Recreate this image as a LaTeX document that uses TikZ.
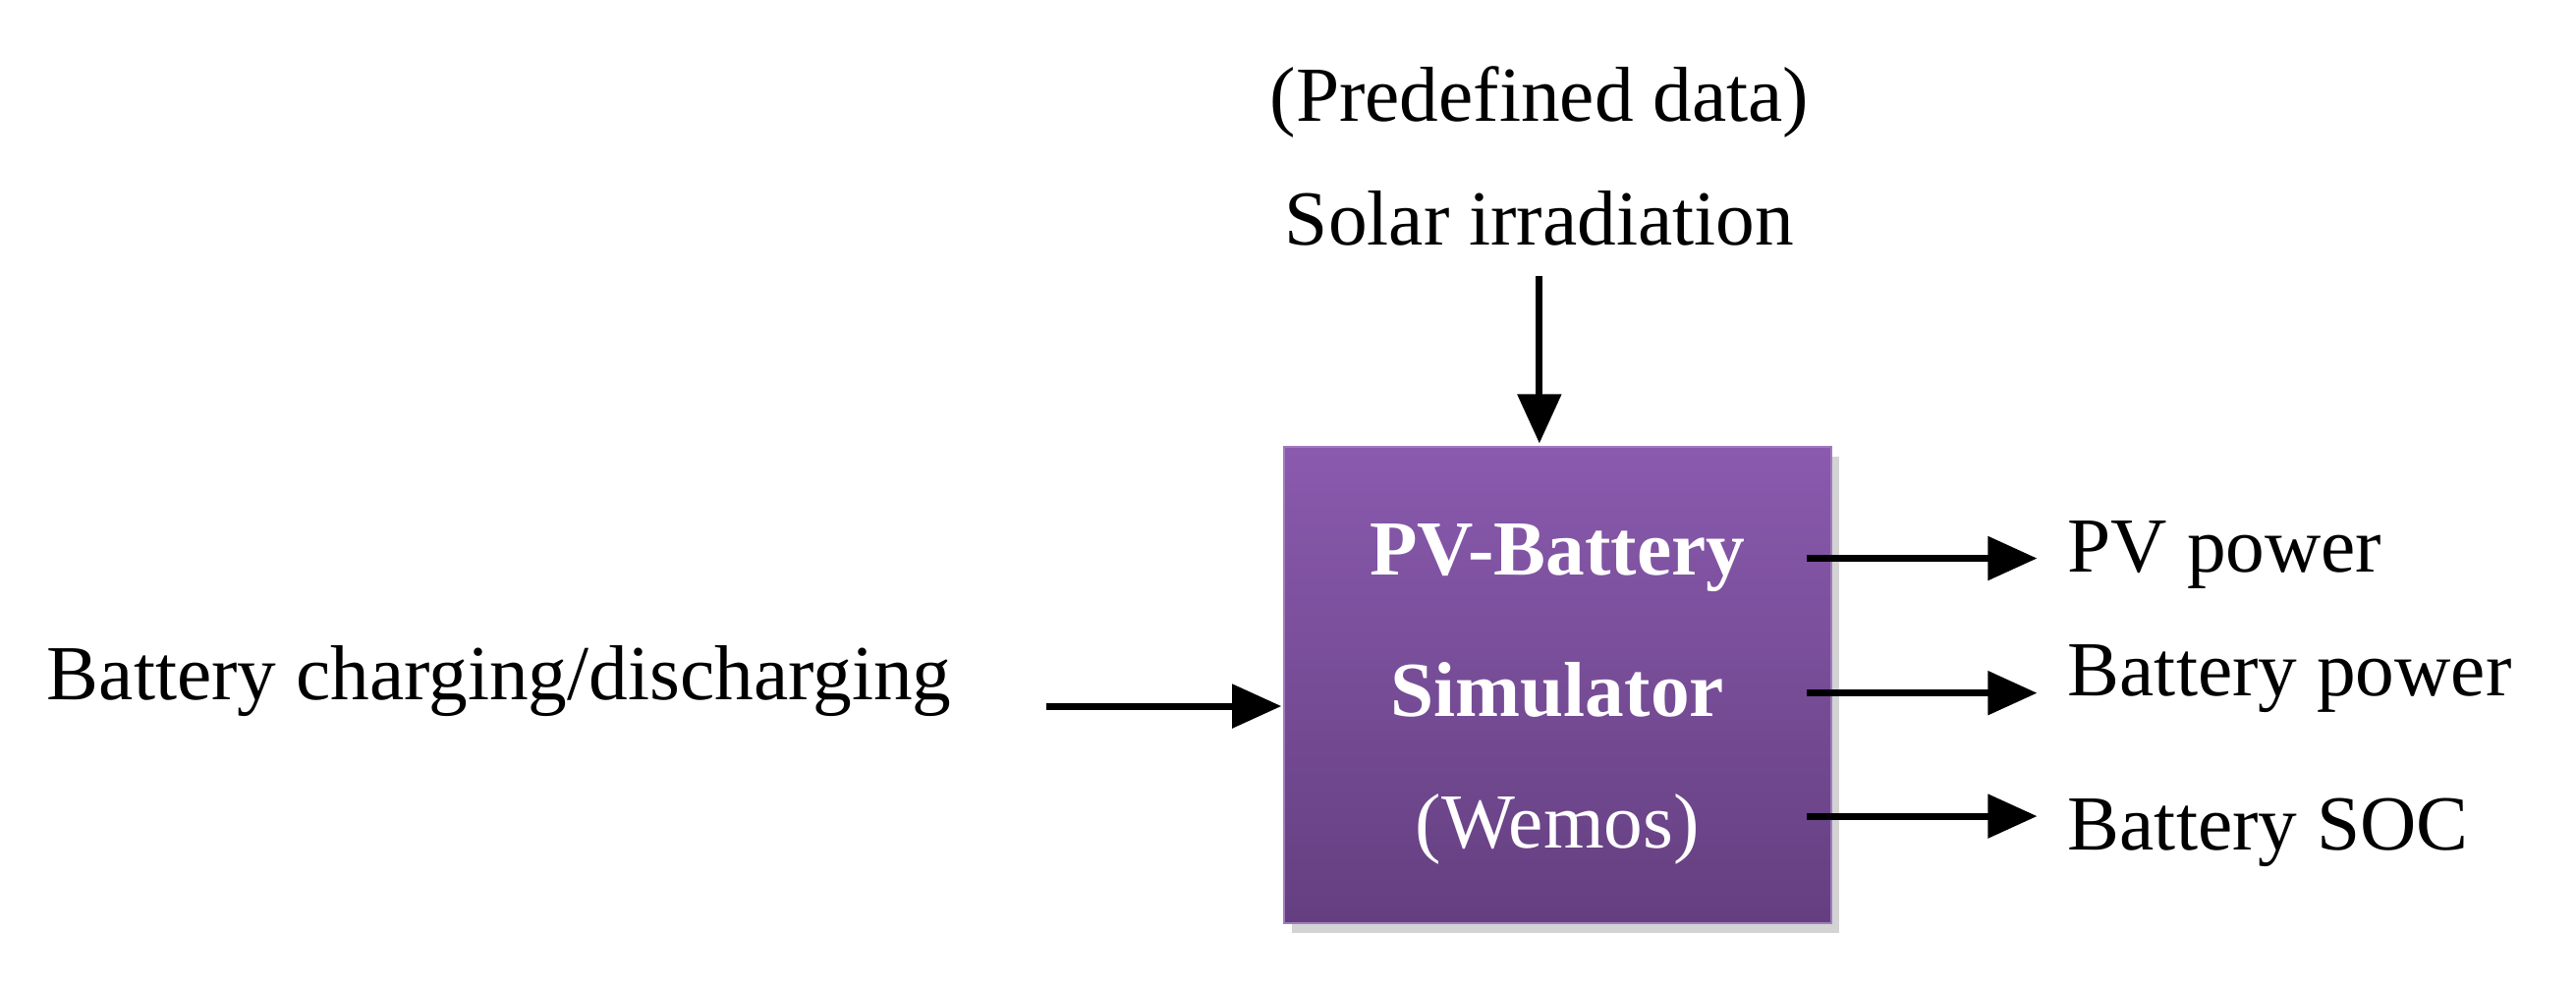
\documentclass[tikz,border=0pt]{standalone}
\usepackage{fontspec}
\setmainfont{Liberation Serif}
\usetikzlibrary{arrows.meta,positioning,shadows}
\definecolor{violettop}{HTML}{8A5AAE}
\definecolor{violetbot}{HTML}{643F80}
\tikzstyle{sim}=[rectangle,minimum width=3.33cm,minimum height=2.9cm,top color=violettop,bottom color=violetbot,draw=violettop!80,drop shadow={opacity=0.35,shadow xshift=0.5mm,shadow yshift=-0.6mm}]
\tikzstyle{label}=[inner sep=0pt,font=\fontsize{13.5}{16}\selectfont]
\tikzstyle{inner}=[inner sep=0pt,text=white,font=\fontsize{13.5}{16}\selectfont]
\tikzstyle{signal}=[-{Triangle[length=3mm,width=2.6mm]},line width=1.2pt]

\begin{document}
\begin{tikzpicture}[x=1cm,y=1cm]
\useasboundingbox (0,0) rectangle (15.68,6.0);

\node (sim) [sim] at (9.48,1.83) {};
\node (pvb) [inner,font=\fontsize{13.5}{16}\selectfont\bfseries] at (9.48,2.60) {PV-Battery};
\node (simu) [inner,font=\fontsize{13.5}{16}\selectfont\bfseries] at (9.48,1.80) {Simulator};
\node (wemos) [inner] at (9.48,0.95) {(Wemos)};

\node (pre) [label] at (9.37,5.38) {(Predefined data)};
\node (solar) [label] at (9.37,4.67) {Solar irradiation};
\node (charge) [label,anchor=west] at (0.28,1.85) {Battery charging/discharging};
\node (pvp) [label,anchor=west] at (12.58,2.62) {PV power};
\node (batp) [label,anchor=west] at (12.58,1.87) {Battery power};
\node (soc) [label,anchor=west] at (12.58,0.93) {Battery SOC};

\coordinate (topin) at (9.37,4.32);
\coordinate (topend) at (9.37,3.30);
\coordinate (leftin) at (6.37,1.70);
\coordinate (leftend) at (7.80,1.70);
\draw [signal] (topin) -- (topend);
\draw [signal] (leftin) -- (leftend);
\foreach \y/\n in {2.60/pvp,1.78/batp,1.03/soc} {
  \coordinate (o\n) at (11.00,\y);
  \draw [signal] (o\n) -- (12.40,\y);
}
\end{tikzpicture}
\end{document}
